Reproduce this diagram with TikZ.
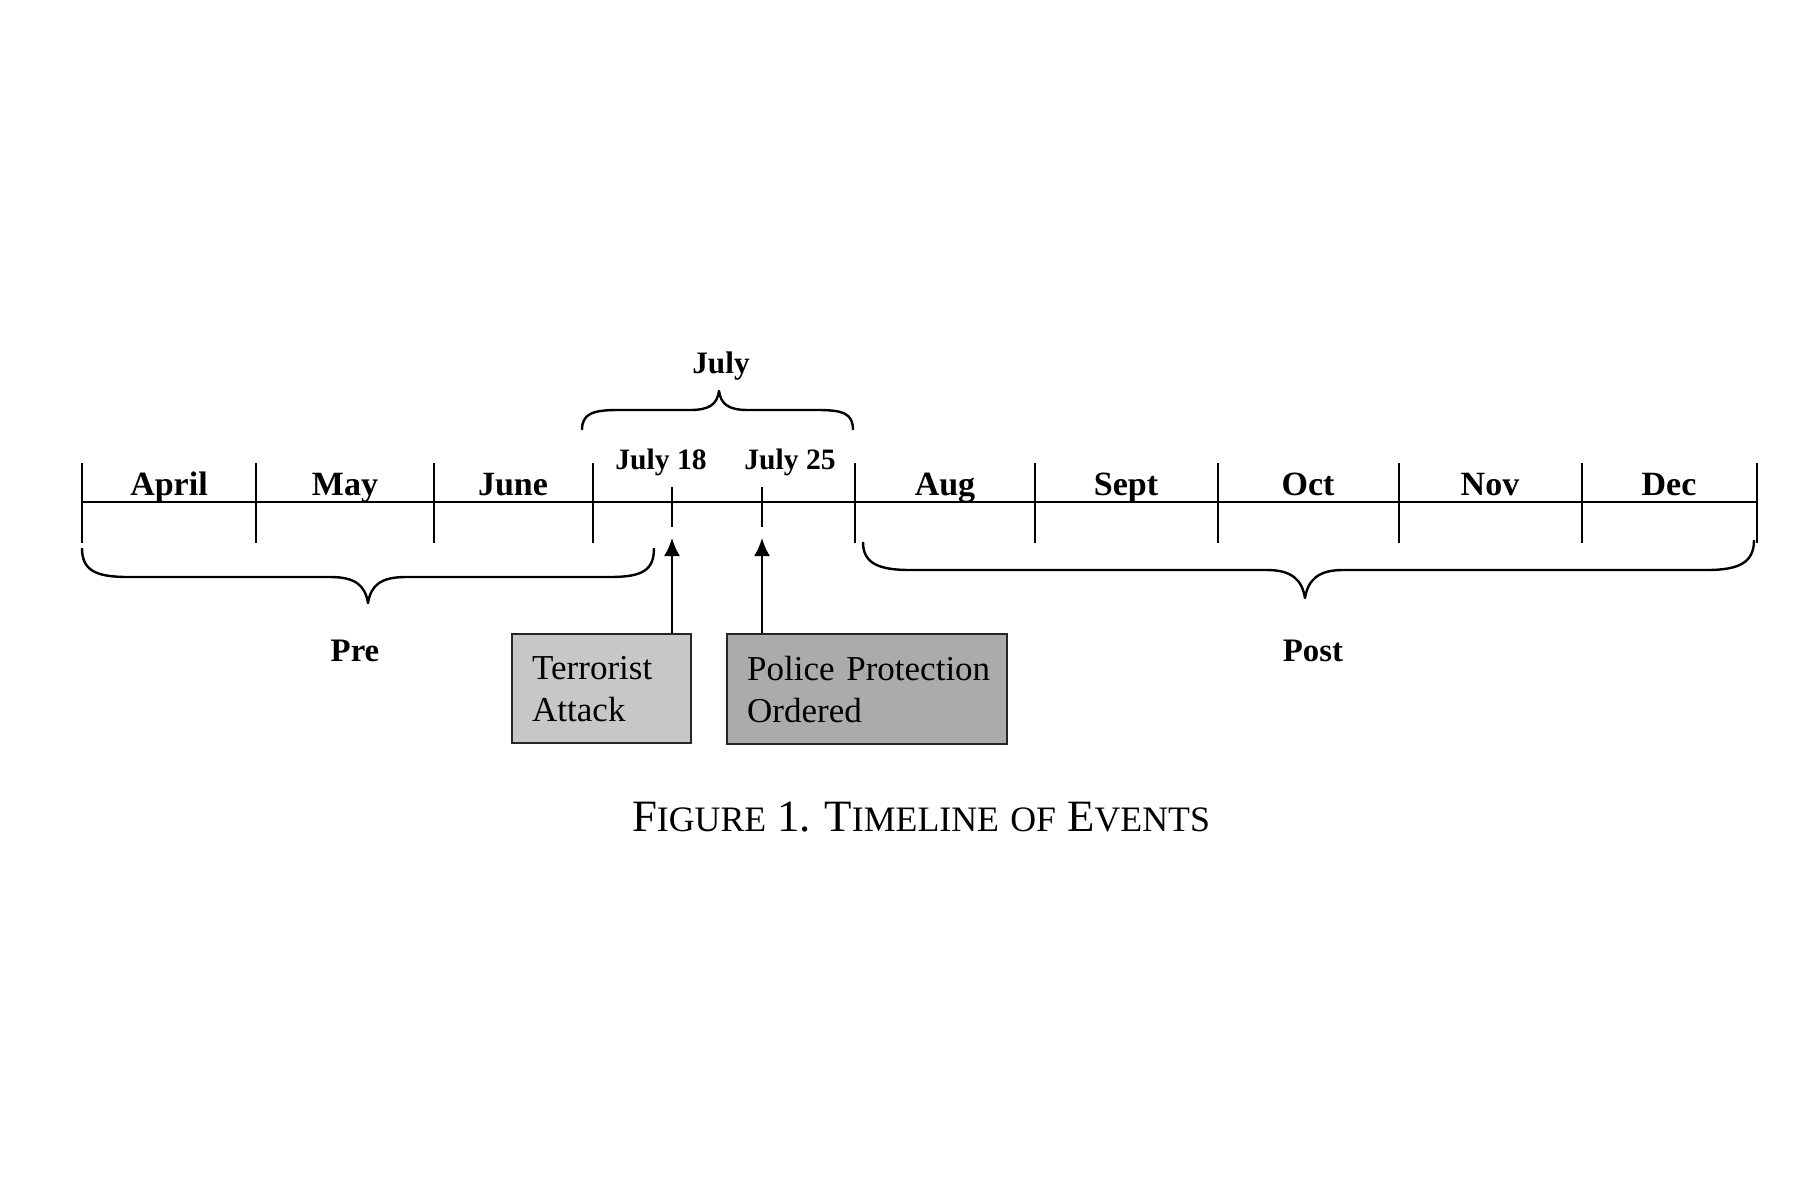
\documentclass[tikz,border=0pt]{standalone}
\usepackage{fontspec}
\setmainfont{Liberation Serif}
\usetikzlibrary{arrows.meta}
\newcommand\capsc[2]{{\fontsize{22.4}{26}\selectfont #1}{\fontsize{17.9}{26}\selectfont #2}}
\begin{document}
\begin{tikzpicture}[x=0.5pt,y=-0.5pt,
  axis/.style={line width=1.3pt},
  tickline/.style={line width=1pt},
  bracepath/.style={line width=1.2pt, line join=round},
  monthlbl/.style={font=\fontsize{17}{20}\selectfont\bfseries, anchor=base, inner sep=0pt},
  daylbl/.style={font=\fontsize{14.8}{18}\selectfont\bfseries, anchor=base, inner sep=0pt},
  julylbl/.style={font=\fontsize{15.6}{18}\selectfont\bfseries, anchor=base, inner sep=0pt},
  periodlbl/.style={font=\fontsize{16.4}{20}\selectfont\bfseries, anchor=base, inner sep=0pt},
  eventbox/.style={draw=black!85, line width=1.2pt, align=left, font=\fontsize{17.5}{21}\selectfont, inner xsep=10pt, inner ysep=0pt, anchor=north west},
  evarrow/.style={line width=1.1pt, -{Latex[length=9pt,width=8pt]}}
]
\useasboundingbox (0,0) rectangle (1800,1200);

% tick coordinates
\coordinate (k0) at (82,502);
\coordinate (k1) at (256,502);
\coordinate (k2) at (434,502);
\coordinate (k3) at (593,502);
\coordinate (k4) at (855,502);
\coordinate (k5) at (1035,502);
\coordinate (k6) at (1218,502);
\coordinate (k7) at (1399,502);
\coordinate (k8) at (1582,502);
\coordinate (k9) at (1757,502);
\coordinate (t18) at (672,502);
\coordinate (t25) at (762,502);
\coordinate (h18) at (672,538);
\coordinate (h25) at (762,538);

% timeline
\draw[axis] (k0) -- (k9);
\foreach \k in {k0,k1,k2,k3,k4,k5,k6,k7,k8,k9}
  \draw[tickline] ([yshift=19.5pt]\k) -- ([yshift=-20.5pt]\k);
\foreach \k in {t18,t25}
  \draw[tickline] ([yshift=7.5pt]\k) -- ([yshift=-12.5pt]\k);

% month labels
\node[monthlbl] (apr) at (169,495) {April};
\node[monthlbl] (may) at (345,495) {May};
\node[monthlbl] (jun) at (513,495) {June};
\node[monthlbl] (aug) at (945,495) {Aug};
\node[monthlbl] (sep) at (1126,495) {Sept};
\node[monthlbl] (oct) at (1308,495) {Oct};
\node[monthlbl] (nov) at (1490,495) {Nov};
\node[monthlbl] (dec) at (1669,495) {Dec};
\node[daylbl] (j18) at (661,469) {July 18};
\node[daylbl] (j25) at (790,469) {July 25};
\node[julylbl] (jul) at (721,373) {July};

% braces
\draw[bracepath] (582,430) .. controls (582,414) and (592,410) .. (618,410)
  -- (690,410) .. controls (710,410) and (717,404) .. (719,391)
  .. controls (721,404) and (728,410) .. (748,410) -- (818,410)
  .. controls (844,410) and (853,414) .. (853,430);
\draw[bracepath] (82,548) .. controls (82,570) and (95,577) .. (128,577)
  -- (330,577) .. controls (355,577) and (365,585) .. (368,603)
  .. controls (371,585) and (381,577) .. (406,577) -- (610,577)
  .. controls (643,577) and (654,570) .. (654,548);
\draw[bracepath] (863,542) .. controls (863,563) and (878,570) .. (910,570)
  -- (1267,570) .. controls (1292,570) and (1302,580) .. (1305,598)
  .. controls (1308,580) and (1318,570) .. (1343,570) -- (1707,570)
  .. controls (1740,570) and (1754,562) .. (1754,540);

\node[periodlbl] (pre) at (355,661) {Pre};
\node[periodlbl] (post) at (1313,661) {Post};

% event boxes
\node[eventbox, fill=black!22, minimum width=89.5pt, minimum height=54.5pt, text width=69.5pt] (ta) at (511,633) {\mbox{Terrorist}\\\mbox{Attack}};
\node[eventbox, fill=black!33, minimum width=140pt, minimum height=55pt, text width=120pt] (pp) at (726,633) {\mbox{Police Protection}\\\mbox{Ordered}};

\draw[evarrow] (ta.north -| t18) -- (h18);
\draw[evarrow] (pp.north -| t25) -- (h25);

% caption
\node[anchor=base, inner sep=0pt, font=\fontsize{22.4}{26}\selectfont] (cap) at (921,831) {\capsc{F}{IGURE} \capsc{1.}{}\hspace{0.3em}\capsc{T}{IMELINE} \capsc{}{OF} \capsc{E}{VENTS}};
\end{tikzpicture}
\end{document}
